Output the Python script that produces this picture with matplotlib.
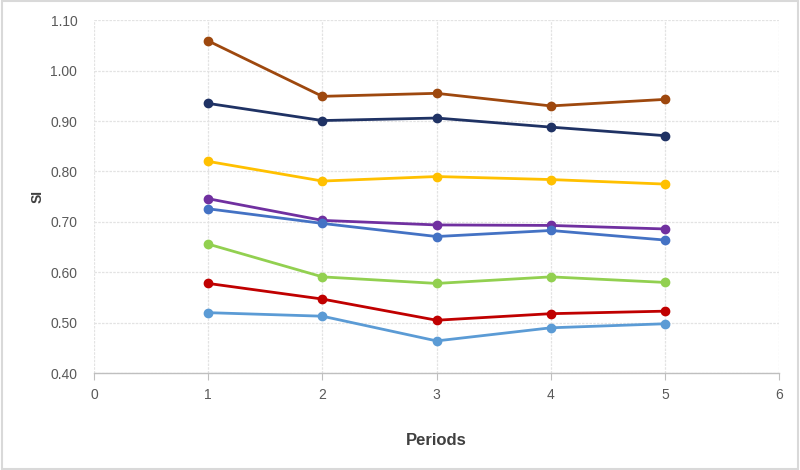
import matplotlib
matplotlib.use("Agg")
import matplotlib.pyplot as plt

# Values
periods = [1, 2, 3, 4, 5]
si_brown = [1.059, 0.949, 0.955, 0.930, 0.943]
si_navy = [0.935, 0.901, 0.906, 0.888, 0.871]
si_yellow = [0.820, 0.781, 0.790, 0.784, 0.775]
si_purple = [0.746, 0.703, 0.694, 0.693, 0.686]
si_blue = [0.726, 0.697, 0.671, 0.683, 0.664]
si_green = [0.656, 0.591, 0.578, 0.591, 0.580]
si_red = [0.578, 0.547, 0.505, 0.518, 0.523]
si_lightblue = [0.520, 0.513, 0.464, 0.490, 0.498]

series = [si_brown, si_navy, si_yellow, si_purple, si_blue,
          si_green, si_red, si_lightblue]
colors = ["#9E480E", "#1F3264", "#FFC000", "#7030A0", "#4472C4",
          "#92D050", "#C00000", "#5B9BD5"]

x_ticks = [0, 1, 2, 3, 4, 5, 6]
y_ticks = [0.40, 0.50, 0.60, 0.70, 0.80, 0.90, 1.00, 1.10]

plt.rcParams["font.family"] = ["Liberation Sans", "DejaVu Sans"]

fig = plt.figure(figsize=(8, 4.7), dpi=100)
ax = fig.add_axes([0.1175, 0.206, 0.974 - 0.1175, 0.957 - 0.206])

for vals, c in zip(series, colors):
    ax.plot(periods, vals, color=c, linewidth=2, marker="o",
            markersize=6, zorder=3)

ax.set_xlim(0, 6)
ax.set_ylim(0.40, 1.10)
ax.set_xticks(x_ticks)
ax.set_yticks(y_ticks)
ax.set_yticklabels([f"{v:.2f}" for v in y_ticks])

ax.grid(True, color="#E3E3E3", linewidth=0.9, linestyle=(0, (2, 1)))
ax.set_axisbelow(True)
for side in ["top", "right", "left"]:
    ax.spines[side].set_visible(False)
ax.spines["bottom"].set_color("#BFBFBF")
ax.spines["bottom"].set_linewidth(1)

ax.tick_params(axis="x", colors="#BFBFBF", labelcolor="#595959",
               labelsize=10, length=5, direction="out", pad=6)
ax.tick_params(axis="y", length=0, labelcolor="#595959", labelsize=10, pad=12)

ax.set_xlabel("Periods", fontsize=12, fontweight="bold", color="#404040",
              labelpad=22)
ax.set_ylabel("SI", fontsize=10, fontweight="bold", color="#404040",
              labelpad=4)

# light border around the whole figure
fig.patches.append(plt.Rectangle((0.002, 0.003), 0.996, 0.994,
                                 transform=fig.transFigure, fill=False,
                                 edgecolor="#D9D9D9", linewidth=1.5))

fig.savefig("out.png", dpi=100)
